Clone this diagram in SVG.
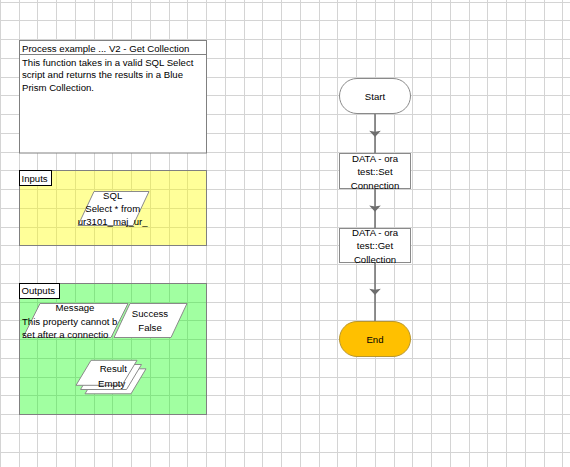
<svg xmlns="http://www.w3.org/2000/svg" width="570" height="467" viewBox="0 0 570 467">
<style>
text{font-family:"Liberation Sans",Arial,sans-serif;font-size:9.6px;fill:#000}
.c{text-anchor:middle}
.grid{stroke:#d4d4d4;stroke-width:1;fill:none}
.frame{stroke:#808080;stroke-width:1}
.lbl{fill:#fff;stroke:#000;stroke-width:1}
.data{fill:#fff;stroke:#8a8a8a;stroke-width:1}
.stage{fill:#fff;stroke:#8a8a8a;stroke-width:1}
.conn{stroke:#6e6e6e;stroke-width:1.5;fill:none;marker-mid:url(#arr)}
</style>
<defs>
<marker id="arr" markerUnits="userSpaceOnUse" markerWidth="14" markerHeight="14" viewBox="-7 -7 14 14" refX="0" refY="0" orient="auto">
<path d="M-3,-5.8 L3.2,0 L-3,5.8 L-2,0 Z" fill="#6e6e6e"/>
</marker>
</defs>
<rect width="570" height="467" fill="#fff"/>
<path class="grid" d="M0.5,0V467M19.5,0V467M37.5,0V467M56.5,0V467M75.5,0V467M94.5,0V467M112.5,0V467M131.5,0V467M150.5,0V467M169.5,0V467M187.5,0V467M206.5,0V467M225.5,0V467M244.5,0V467M262.5,0V467M281.5,0V467M300.5,0V467M319.5,0V467M337.5,0V467M356.5,0V467M375.5,0V467M394.5,0V467M412.5,0V467M431.5,0V467M450.5,0V467M469.5,0V467M487.5,0V467M506.5,0V467M525.5,0V467M544.5,0V467M562.5,0V467M0,2.5H570M0,20.5H570M0,39.5H570M0,58.5H570M0,77.5H570M0,95.5H570M0,114.5H570M0,133.5H570M0,152.5H570M0,170.5H570M0,189.5H570M0,208.5H570M0,227.5H570M0,245.5H570M0,264.5H570M0,283.5H570M0,302.5H570M0,320.5H570M0,339.5H570M0,358.5H570M0,377.5H570M0,395.5H570M0,414.5H570M0,433.5H570M0,452.5H570"/>

<g id="process-info">
<rect class="frame" x="19.5" y="40.5" width="187" height="112.5" fill="#fff"/>
<line class="frame" x1="19.5" y1="54.5" x2="206.5" y2="54.5"/>
<text x="22" y="51.6">Process example ... V2 - Get Collection</text>
<text x="22" y="65.6">This function takes in a valid SQL Select</text>
<text x="22" y="78.3">script and returns the results in a Blue</text>
<text x="22" y="91">Prism Collection.</text>
</g>

<g id="inputs">
<rect class="frame" x="19.5" y="170.5" width="187" height="75" fill="#ffff00" fill-opacity="0.4"/>
<rect class="lbl" x="19.5" y="170.5" width="32" height="15"/>
<text x="21.5" y="182.3">Inputs</text>
</g>

<g id="sql">
<polygon class="data" points="94,191.5 149,191.5 133,225.5 78,225.5"/>
<text class="c" x="112.7" y="199.2">SQL</text>
<text class="c" x="112.7" y="212.2">Select * from</text>
<text class="c" x="112.7" y="225.2">ur3101_maj_ur_</text>
</g>

<g id="outputs">
<rect class="frame" x="19.5" y="283.5" width="187" height="131" fill="#00ff00" fill-opacity="0.37"/>
<rect class="lbl" x="19.5" y="283.5" width="40" height="15"/>
<text x="21.5" y="294.3">Outputs</text>
</g>

<g id="message">
<polygon class="data" points="40,303.5 128,303.5 111,337.5 23,337.5"/>
<text class="c" x="75" y="311.2">Message</text>
<text x="22" y="325.2">This property cannot b</text>
<text x="22" y="337.6">set after a connectio</text>
</g>

<g id="success">
<polygon class="data" points="130,303.5 187,303.5 171,337.5 114,337.5"/>
<text class="c" x="150" y="317.2">Success</text>
<text class="c" x="150" y="330.8">False</text>
</g>

<g id="result">
<polygon class="data" points="100,368.8 146,368.8 131,393.8 85,393.8"/>
<polygon class="data" points="95.5,364.5 141.5,364.5 126.5,389.5 80.5,389.5"/>
<polygon class="data" points="91,360.3 137,360.3 122,385.3 76,385.3"/>
<text class="c" x="113.3" y="372.2">Result</text>
<text class="c" x="111.7" y="387.2">Empty</text>
</g>

<g id="connectors">
<path class="conn" d="M375,113.5 L375,133.8 L375,153.5"/>
<path class="conn" d="M375,188.5 L375,208.5 L375,228.5"/>
<path class="conn" d="M375,262.5 L375,291.8 L375,321.5"/>
</g>

<g id="start">
<rect class="stage" x="339.5" y="78.5" width="71" height="35" rx="17.5" stroke="#a0a0a0"/>
<text class="c" x="375" y="99.5">Start</text>
</g>

<g id="set-connection">
<rect class="stage" x="339.5" y="153.5" width="71" height="35"/>
<text class="c" x="375" y="161.8">DATA - ora</text>
<text class="c" x="375" y="175.2">test::Set</text>
<text class="c" x="375" y="188.5">Connection</text>
</g>

<g id="get-collection">
<rect class="stage" x="339.5" y="228.5" width="71" height="34"/>
<text class="c" x="375" y="236.2">DATA - ora</text>
<text class="c" x="375" y="249.2">test::Get</text>
<text class="c" x="375" y="262.5">Collection</text>
</g>

<g id="end">
<rect x="339.5" y="321.5" width="71" height="35" rx="17.5" fill="#ffc000" stroke="#b8962e" stroke-width="1"/>
<text class="c" x="375" y="342.5">End</text>
</g>
</svg>
